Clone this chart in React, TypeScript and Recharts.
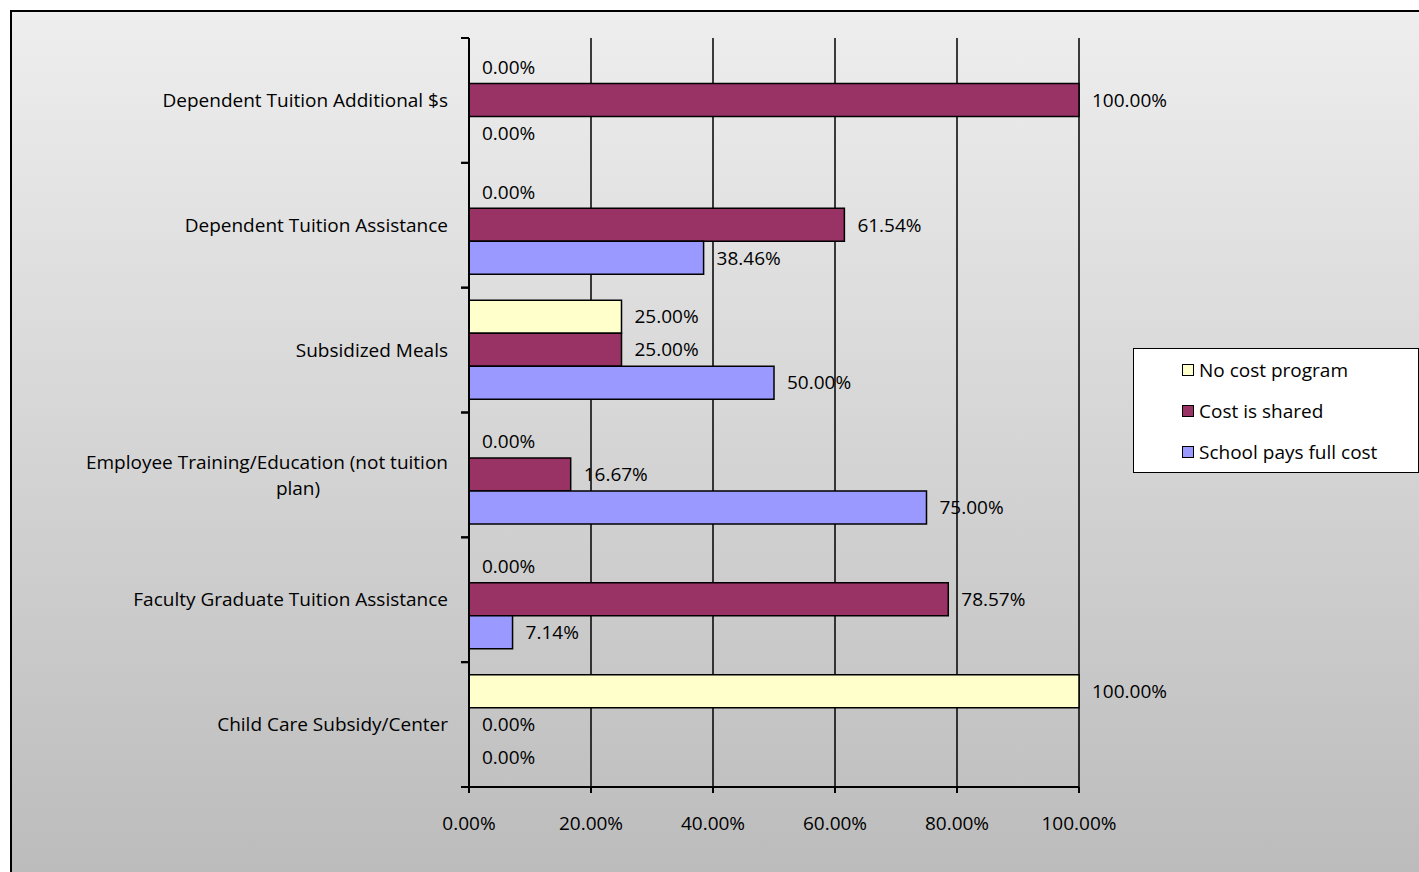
import { BarChart, Bar, XAxis, YAxis, CartesianGrid, LabelList, Legend, ReferenceLine } from 'recharts';

const CATEGORIES = [
  'Dependent Tuition Additional $s',
  'Dependent Tuition Assistance',
  'Subsidized Meals',
  'Employee Training/Education (not tuition plan)',
  'Faculty Graduate Tuition Assistance',
  'Child Care Subsidy/Center',
];
const NO_COST = [0, 0, 25, 0, 0, 100];
const SHARED = [100, 61.54, 25, 16.67, 78.57, 0];
const FULL_COST = [0, 38.46, 50, 75, 7.14, 0];
const X_TICKS = [0, 20, 40, 60, 80, 100];

const SERIES = [
  { key: 'noCost', name: 'No cost program', color: '#FFFFCC', values: NO_COST },
  { key: 'shared', name: 'Cost is shared', color: '#993366', values: SHARED },
  { key: 'full', name: 'School pays full cost', color: '#9999FF', values: FULL_COST },
];

const data = CATEGORIES.map((name, i) => {
  const row: Record<string, string | number> = { name };
  SERIES.forEach((s) => (row[s.key] = s.values[i]));
  return row;
});

const FONT = '"Open Sans", sans-serif';
const TICK_GAP = 21;
const pct = (v: unknown) => `${Number(v).toFixed(2)}%`;

function wrap(text: string, max: number) {
  const lines: string[] = [];
  let cur = '';
  text.split(' ').forEach((w) => {
    const next = cur ? cur + ' ' + w : w;
    if (next.length > max && cur) {
      lines.push(cur);
      cur = w;
    } else cur = next;
  });
  if (cur) lines.push(cur);
  return lines;
}

// category label plus the tick marks on the band edges (Excel style)
function CategoryTick({ x, y, payload }: { x: number; y: number; payload: { value: string; offset?: number } }) {
  const lines = wrap(payload.value, 40);
  const common = { fontSize: 19, fill: '#000', fontFamily: FONT };
  const axisX = x + TICK_GAP;
  const half = payload.offset ?? 0;
  return (
    <g>
      {half > 0 && (
        <>
          <line x1={axisX - 8} x2={axisX} y1={y - half} y2={y - half} stroke="#000" strokeWidth={2} />
          <line x1={axisX - 8} x2={axisX} y1={y + half} y2={y + half} stroke="#000" strokeWidth={2} />
        </>
      )}
      {lines.length === 1 ? (
        <text x={x} y={y} dy="0.35em" textAnchor="end" {...common}>
          {lines[0]}
        </text>
      ) : (
        <>
          <text x={x} y={y - 13} dy="0.35em" textAnchor="end" {...common}>
            {lines[0]}
          </text>
          <text x={x - 150} y={y + 13} dy="0.35em" textAnchor="middle" {...common}>
            {lines[1]}
          </text>
        </>
      )}
    </g>
  );
}

// zero-valued bars get a hairline so their value labels still render
const zeroSize = (value: unknown) => (Number(value) === 0 ? 0.01 : 0);

function LegendBox() {
  return (
    <div
      style={{
        width: 286,
        height: 125,
        boxSizing: 'border-box',
        border: '1px solid #000',
        background: '#fff',
        paddingTop: 0,
        fontFamily: FONT,
        fontSize: 19,
      }}
    >
      {SERIES.map((s) => (
        <div key={s.key} style={{ display: 'flex', alignItems: 'center', height: 41, paddingLeft: 48 }}>
          <span
            style={{
              width: 12,
              height: 12,
              boxSizing: 'border-box',
              border: '1px solid #000',
              background: s.color,
              marginRight: 5,
            }}
          />
          <span>{s.name}</span>
        </div>
      ))}
    </div>
  );
}

export default function App() {
  return (
    <div style={{ position: 'absolute', left: 10, top: 10, width: 1409, height: 862, overflow: 'hidden' }}>
      <div
        style={{
          position: 'absolute',
          left: 0,
          top: 0,
          width: 1430,
          height: 880,
          boxSizing: 'border-box',
          border: '2px solid #000',
          background: 'linear-gradient(#eeeeee, #bbbbbb)',
        }}
      />
      <div style={{ position: 'absolute', left: 0, top: 0 }}>
        <BarChart
          width={1409}
          height={862}
          data={data}
          layout="vertical"
          margin={{ top: 28, right: 340, bottom: 45, left: 0 }}
          barCategoryGap="10%"
          barGap={0}
          style={{ fontFamily: FONT }}
        >
          <CartesianGrid horizontal={false} stroke="#000" strokeWidth={1.5} />
          <YAxis
            type="category"
            dataKey="name"
            width={459}
            axisLine={false}
            tickLine={false}
            tickSize={0}
            tickMargin={TICK_GAP}
            interval={0}
            tick={CategoryTick}
          />
          <XAxis
            type="number"
            domain={[0, 100]}
            ticks={X_TICKS}
            interval={0}
            height={40}
            tickFormatter={pct}
            tickSize={6}
            tickMargin={24}
            axisLine={{ stroke: '#000', strokeWidth: 2 }}
            tickLine={{ stroke: '#000', strokeWidth: 2 }}
            tick={{ fontSize: 19, fill: '#000', fontFamily: FONT }}
          />
          <ReferenceLine x={0} stroke="#000" strokeWidth={2} ifOverflow="visible" />
          <ReferenceLine
            y={CATEGORIES[CATEGORIES.length - 1]}
            position="end"
            stroke="#000"
            strokeWidth={2}
            ifOverflow="visible"
          />
          <Legend
            layout="horizontal"
            verticalAlign="middle"
            align="center"
            content={() => <LegendBox />}
            wrapperStyle={{ left: 1123, top: 338, width: 286, height: 125 }}
          />
          {SERIES.map((s) => (
            <Bar
              key={s.key}
              dataKey={s.key}
              name={s.name}
              fill={s.color}
              stroke="#000"
              strokeWidth={1.5}
              minPointSize={zeroSize}
              isAnimationActive={false}
            >
              <LabelList
                dataKey={s.key}
                position="right"
                offset={13}
                formatter={pct}
                style={{ fontSize: 19, fill: '#000', fontFamily: FONT }}
              />
            </Bar>
          ))}
        </BarChart>
      </div>
    </div>
  );
}
